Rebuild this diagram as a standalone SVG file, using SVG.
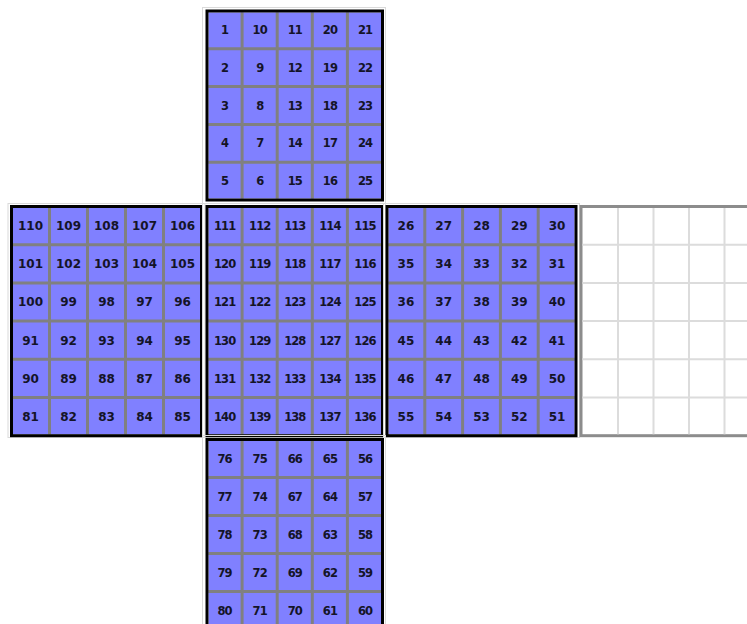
<svg xmlns="http://www.w3.org/2000/svg" width="747" height="624" viewBox="0 0 747 624">
<style>
.bg{fill:#8080ff}
.sep{fill:none;stroke:#808080;stroke-width:3}
.brd{fill:none;stroke:#000;stroke-width:3}
.halo{fill:none;stroke:#dadada;stroke-width:1}
.big{font-family:"DejaVu Sans",Verdana,sans-serif;font-weight:bold;font-size:12px;fill:#141428;text-anchor:middle}
.sm{font-family:"DejaVu Sans",Verdana,sans-serif;font-weight:bold;font-size:11.5px;letter-spacing:-0.9px;fill:#141428;text-anchor:middle}
.egrid{fill:#fff;stroke:#8c8c8c;stroke-width:3}
.eline{fill:none;stroke:#dcdcdc;stroke-width:2}
</style>
<rect width="747" height="624" fill="#fff"/>

<g id="face-top">
<rect class="halo" x="202.5" y="7.5" width="183" height="196"/>
<rect class="bg" x="208.5" y="12.5" width="172.5" height="186"/>
<path class="sep" d="M242.1 12.5V198.5M277.2 12.5V198.5M312.3 12.5V198.5M347.4 12.5V198.5M208.5 48.8H381M208.5 86.6H381M208.5 124.4H381M208.5 162.2H381"/>
<rect class="brd" x="207" y="11" width="175.5" height="189"/>
<text class="sm" y="34"><tspan x="224.6">1</tspan><tspan x="259.7">10</tspan><tspan x="294.8">11</tspan><tspan x="329.9">20</tspan><tspan x="365">21</tspan></text>
<text class="sm" y="71.8"><tspan x="224.6">2</tspan><tspan x="259.7">9</tspan><tspan x="294.8">12</tspan><tspan x="329.9">19</tspan><tspan x="365">22</tspan></text>
<text class="sm" y="109.6"><tspan x="224.6">3</tspan><tspan x="259.7">8</tspan><tspan x="294.8">13</tspan><tspan x="329.9">18</tspan><tspan x="365">23</tspan></text>
<text class="sm" y="147.4"><tspan x="224.6">4</tspan><tspan x="259.7">7</tspan><tspan x="294.8">14</tspan><tspan x="329.9">17</tspan><tspan x="365">24</tspan></text>
<text class="sm" y="185.2"><tspan x="224.6">5</tspan><tspan x="259.7">6</tspan><tspan x="294.8">15</tspan><tspan x="329.9">16</tspan><tspan x="365">25</tspan></text>
</g>

<g id="face-left">
<rect class="halo" x="8" y="203.5" width="197" height="234"/>
<rect class="bg" x="13" y="208" width="187" height="226.2"/>
<path class="sep" d="M49.5 208V434.2M87.5 208V434.2M125.5 208V434.2M163.5 208V434.2M13 244.7H200M13 282.9H200M13 321.1H200M13 359.3H200M13 397.5H200"/>
<rect class="brd" x="11.5" y="206.5" width="190" height="229.2"/>
<text class="big" y="230"><tspan x="30.5">110</tspan><tspan x="68.5">109</tspan><tspan x="106.5">108</tspan><tspan x="144.5">107</tspan><tspan x="182.5">106</tspan></text>
<text class="big" y="268.2"><tspan x="30.5">101</tspan><tspan x="68.5">102</tspan><tspan x="106.5">103</tspan><tspan x="144.5">104</tspan><tspan x="182.5">105</tspan></text>
<text class="big" y="306.4"><tspan x="30.5">100</tspan><tspan x="68.5">99</tspan><tspan x="106.5">98</tspan><tspan x="144.5">97</tspan><tspan x="182.5">96</tspan></text>
<text class="big" y="344.6"><tspan x="30.5">91</tspan><tspan x="68.5">92</tspan><tspan x="106.5">93</tspan><tspan x="144.5">94</tspan><tspan x="182.5">95</tspan></text>
<text class="big" y="382.8"><tspan x="30.5">90</tspan><tspan x="68.5">89</tspan><tspan x="106.5">88</tspan><tspan x="144.5">87</tspan><tspan x="182.5">86</tspan></text>
<text class="big" y="421"><tspan x="30.5">81</tspan><tspan x="68.5">82</tspan><tspan x="106.5">83</tspan><tspan x="144.5">84</tspan><tspan x="182.5">85</tspan></text>
</g>

<g id="face-center">
<rect class="halo" x="202.5" y="203.5" width="183" height="234"/>
<rect class="bg" x="208.5" y="208" width="172.5" height="226.2"/>
<path class="sep" d="M242.1 208V434.2M277.2 208V434.2M312.3 208V434.2M347.4 208V434.2M208.5 244.7H381M208.5 282.9H381M208.5 321.1H381M208.5 359.3H381M208.5 397.5H381"/>
<rect class="brd" x="207" y="206.5" width="175.5" height="229.2"/>
<text class="sm" y="229.9"><tspan x="224.6">111</tspan><tspan x="259.7">112</tspan><tspan x="294.8">113</tspan><tspan x="329.9">114</tspan><tspan x="365">115</tspan></text>
<text class="sm" y="268.1"><tspan x="224.6">120</tspan><tspan x="259.7">119</tspan><tspan x="294.8">118</tspan><tspan x="329.9">117</tspan><tspan x="365">116</tspan></text>
<text class="sm" y="306.3"><tspan x="224.6">121</tspan><tspan x="259.7">122</tspan><tspan x="294.8">123</tspan><tspan x="329.9">124</tspan><tspan x="365">125</tspan></text>
<text class="sm" y="344.5"><tspan x="224.6">130</tspan><tspan x="259.7">129</tspan><tspan x="294.8">128</tspan><tspan x="329.9">127</tspan><tspan x="365">126</tspan></text>
<text class="sm" y="382.7"><tspan x="224.6">131</tspan><tspan x="259.7">132</tspan><tspan x="294.8">133</tspan><tspan x="329.9">134</tspan><tspan x="365">135</tspan></text>
<text class="sm" y="420.9"><tspan x="224.6">140</tspan><tspan x="259.7">139</tspan><tspan x="294.8">138</tspan><tspan x="329.9">137</tspan><tspan x="365">136</tspan></text>
</g>

<g id="face-right">
<rect class="halo" x="383.5" y="203.5" width="196" height="234"/>
<rect class="bg" x="388.5" y="208" width="186" height="226.2"/>
<path class="sep" d="M424.8 208V434.2M462.6 208V434.2M500.4 208V434.2M538.2 208V434.2M388.5 244.7H574.5M388.5 282.9H574.5M388.5 321.1H574.5M388.5 359.3H574.5M388.5 397.5H574.5"/>
<rect class="brd" x="387" y="206.5" width="189" height="229.2"/>
<text class="big" y="230"><tspan x="405.9">26</tspan><tspan x="443.7">27</tspan><tspan x="481.5">28</tspan><tspan x="519.3">29</tspan><tspan x="557.1">30</tspan></text>
<text class="big" y="268.2"><tspan x="405.9">35</tspan><tspan x="443.7">34</tspan><tspan x="481.5">33</tspan><tspan x="519.3">32</tspan><tspan x="557.1">31</tspan></text>
<text class="big" y="306.4"><tspan x="405.9">36</tspan><tspan x="443.7">37</tspan><tspan x="481.5">38</tspan><tspan x="519.3">39</tspan><tspan x="557.1">40</tspan></text>
<text class="big" y="344.6"><tspan x="405.9">45</tspan><tspan x="443.7">44</tspan><tspan x="481.5">43</tspan><tspan x="519.3">42</tspan><tspan x="557.1">41</tspan></text>
<text class="big" y="382.8"><tspan x="405.9">46</tspan><tspan x="443.7">47</tspan><tspan x="481.5">48</tspan><tspan x="519.3">49</tspan><tspan x="557.1">50</tspan></text>
<text class="big" y="421"><tspan x="405.9">55</tspan><tspan x="443.7">54</tspan><tspan x="481.5">53</tspan><tspan x="519.3">52</tspan><tspan x="557.1">51</tspan></text>
</g>

<g id="face-empty">
<rect class="egrid" x="581" y="206.5" width="190" height="229.2"/>
<path class="eline" d="M618 208V434.2M653.5 208V434.2M689 208V434.2M724.5 208V434.2M582.5 244.7H770M582.5 282.9H770M582.5 321.1H770M582.5 359.3H770M582.5 397.5H770"/>
</g>

<g id="face-bottom">
<rect class="halo" x="202.5" y="435.5" width="183" height="200"/>
<rect class="bg" x="208.5" y="441" width="172.5" height="187"/>
<path class="sep" d="M242.1 441V628M277.2 441V628M312.3 441V628M347.4 441V628M208.5 477.5H381M208.5 515.5H381M208.5 553.5H381M208.5 591.5H381"/>
<rect class="brd" x="207" y="439.5" width="175.5" height="190"/>
<text class="sm" y="462.6"><tspan x="224.6">76</tspan><tspan x="259.7">75</tspan><tspan x="294.8">66</tspan><tspan x="329.9">65</tspan><tspan x="365">56</tspan></text>
<text class="sm" y="500.6"><tspan x="224.6">77</tspan><tspan x="259.7">74</tspan><tspan x="294.8">67</tspan><tspan x="329.9">64</tspan><tspan x="365">57</tspan></text>
<text class="sm" y="538.6"><tspan x="224.6">78</tspan><tspan x="259.7">73</tspan><tspan x="294.8">68</tspan><tspan x="329.9">63</tspan><tspan x="365">58</tspan></text>
<text class="sm" y="576.6"><tspan x="224.6">79</tspan><tspan x="259.7">72</tspan><tspan x="294.8">69</tspan><tspan x="329.9">62</tspan><tspan x="365">59</tspan></text>
<text class="sm" y="614.6"><tspan x="224.6">80</tspan><tspan x="259.7">71</tspan><tspan x="294.8">70</tspan><tspan x="329.9">61</tspan><tspan x="365">60</tspan></text>
</g>

<g id="connectors"></g>
</svg>
